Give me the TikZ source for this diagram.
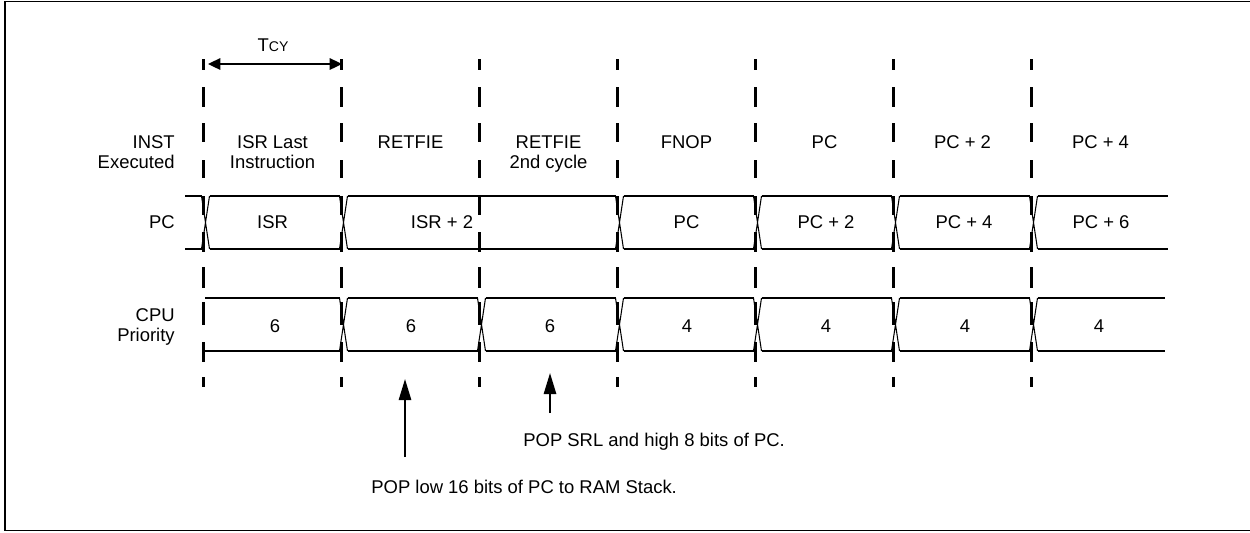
\documentclass[tikz,border=0pt]{standalone}
\usepackage{fontspec}
\setmainfont{Liberation Sans}
\usetikzlibrary{arrows.meta}

\begin{document}
\begin{tikzpicture}[x=0.02cm, y=-0.02cm,
    bus/.style={line width=1.1pt},
    xing/.style={line width=0.6pt},
    gridtick/.style={line width=1.3pt},
    lbl/.style={inner sep=0pt, font=\fontsize{10.5pt}{11.34pt}\selectfont, align=center},
    popline/.style={line width=1.1pt, -{Triangle[length=12pt,width=7pt]}}]
  \useasboundingbox (0,0) rectangle (1250,532);
  \draw[line width=1pt] (5,1.5) rectangle (1251,530.5);

  % cycle boundaries
  \foreach \x in {203.5,341.5,479.5,617.5,755.5,893.5,1031.5}
    \foreach \a/\b in {59/70,87/107,123/142,160/178,196/215,232/252,267/288,302/325,342/362,377/387}
      \draw[gridtick] (\x,\a) -- (\x,\b);

  % Tcy
  \coordinate (tcyL) at (208,64);
  \coordinate (tcyR) at (342,64);
  \draw[line width=1.1pt, {Triangle[length=7pt,width=6.5pt]}-{Triangle[length=7pt,width=6.5pt]}] (tcyL) -- (tcyR);
  \node[lbl] (tcy) at (273,45) {T{\fontsize{8pt}{9pt}\selectfont CY}};

  % row names
  \node[lbl, align=right, anchor=north east] (inst) at (175,135.5) {INST\\Executed};
  \node[lbl, anchor=east] (pcname) at (175,222) {PC};
  \node[lbl, align=right, anchor=north east] (cpuname) at (175,308.5) {CPU\\Priority};

  % instructions
  \node[lbl, anchor=north] (i1) at (272.5,135.5) {ISR Last\\Instruction};
  \node[lbl, anchor=north] (i2) at (410.5,135.5) {RETFIE};
  \node[lbl, anchor=north] (i3) at (548.5,135.5) {RETFIE\\2nd cycle};
  \node[lbl, anchor=north] (i4) at (686.5,135.5) {FNOP};
  \node[lbl, anchor=north] (i5) at (824.5,135.5) {PC};
  \node[lbl, anchor=north] (i6) at (962.5,135.5) {PC + 2};
  \node[lbl, anchor=north] (i7) at (1100.5,135.5) {PC + 4};

  % PC bus
  \foreach \a/\b in {185/201.5,209.5/339.5,347.5/615.5,623.5/753.5,761.5/891.5,899.5/1029.5,1037.5/1168}
    \draw[bus] (\a,196) -- (\b,196) (\a,249) -- (\b,249);
  \foreach \t in {203.5,341.5,617.5,755.5,893.5,1031.5}
    \draw[xing] (\t-2,196) -- (\t+6,249) (\t-2,249) -- (\t+6,196);
  \node[lbl] (pc1) at (272.5,222) {ISR};
  \node[lbl] (pc2) at (442,222) {ISR + 2};
  \node[lbl] (pc3) at (686.5,222) {PC};
  \node[lbl] (pc4) at (826,222) {PC + 2};
  \node[lbl] (pc5) at (964,222) {PC + 4};
  \node[lbl] (pc6) at (1101,222) {PC + 6};

  % CPU priority bus
  \foreach \a/\b in {205/339.5,347.5/477.5,485.5/615.5,623.5/753.5,761.5/891.5,899.5/1029.5,1037.5/1165}
    \draw[bus] (\a,298) -- (\b,298) (\a,351) -- (\b,351);
  \foreach \t in {341.5,479.5,617.5,755.5,893.5,1031.5}
    \draw[xing] (\t-2,298) -- (\t+6,351) (\t-2,351) -- (\t+6,298);
  \node[lbl] (pr1) at (275,326) {6};
  \node[lbl] (pr2) at (411,326) {6};
  \node[lbl] (pr3) at (550,326) {6};
  \node[lbl] (pr4) at (687,326) {4};
  \node[lbl] (pr5) at (826,326) {4};
  \node[lbl] (pr6) at (965,326) {4};
  \node[lbl] (pr7) at (1099,326) {4};

  % notes
  \node[lbl, anchor=base west] (srl) at (523,446.5) {POP SRL and high 8 bits of PC.};
  \node[lbl, anchor=base west] (low) at (371,493.5) {POP low 16 bits of PC to RAM Stack.};
  \coordinate (lowtail) at (405,457);
  \coordinate (lowtip) at (405,379);
  \coordinate (srltail) at (550,413);
  \coordinate (srltip) at (550,373);
  \draw[popline] (lowtail) -- (lowtip);
  \draw[popline] (srltail) -- (srltip);
\end{tikzpicture}
\end{document}
